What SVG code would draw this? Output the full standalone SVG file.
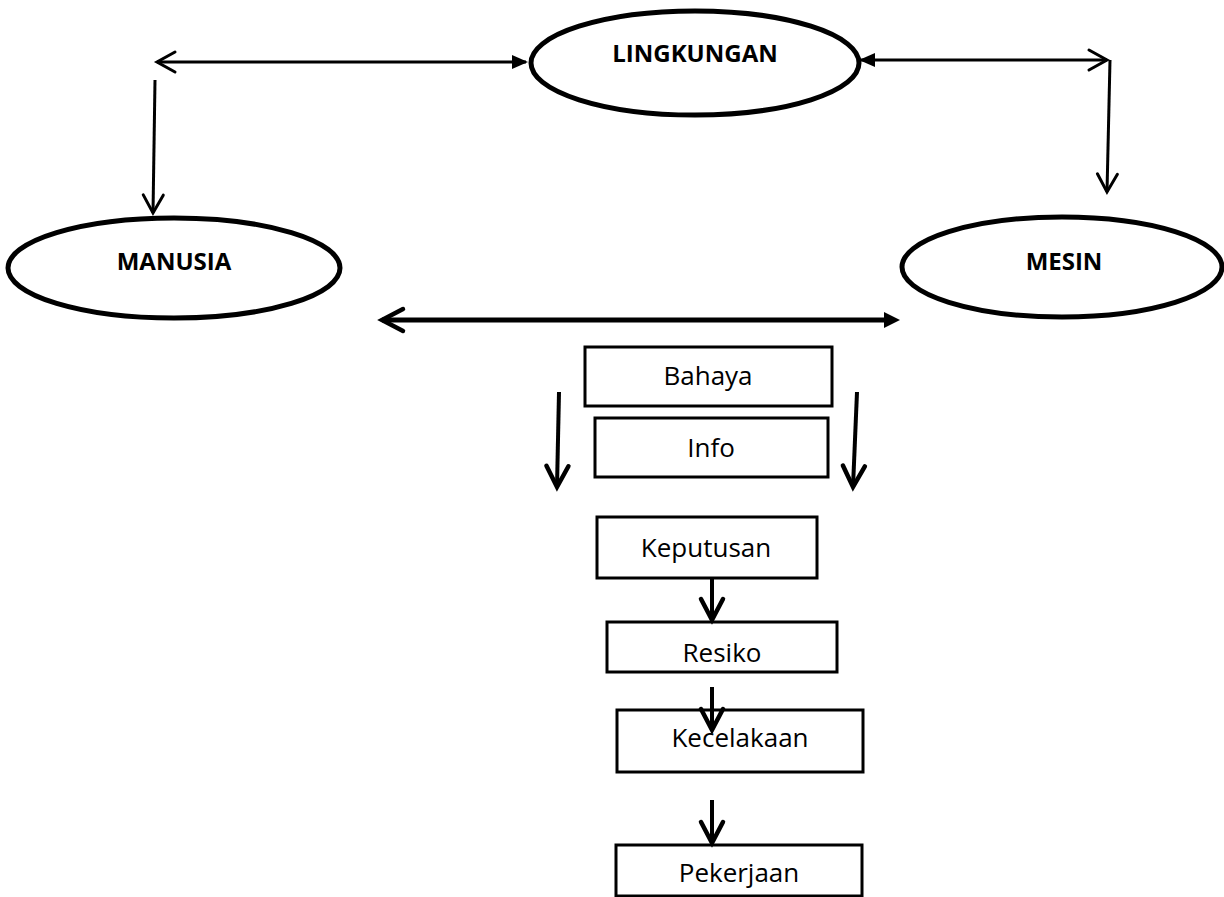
<svg xmlns="http://www.w3.org/2000/svg" width="1224" height="897" viewBox="0 0 1224 897">
<style>
.ell{fill:#fff;stroke:#000;stroke-width:5}
.box{fill:#fff;stroke:#000;stroke-width:3}
.bold{font-family:"Open Sans","Liberation Sans",sans-serif;font-weight:bold;font-size:24px;fill:#000;text-anchor:middle}
.lbl{font-family:"Open Sans","Liberation Sans",sans-serif;font-size:26px;fill:#000;text-anchor:middle}
.c3{fill:none;stroke:#000;stroke-width:3}
.c5{fill:none;stroke:#000;stroke-width:5}
.c4{fill:none;stroke:#000;stroke-width:4}
</style>
<defs>
<marker id="oa" markerUnits="userSpaceOnUse" orient="auto-start-reverse" overflow="visible" markerWidth="1" markerHeight="1" refX="0" refY="0"><path d="M-18,-10 L0,0 L-18,10" fill="none" stroke="#000" stroke-width="3" stroke-linecap="round" stroke-linejoin="miter"/></marker>
<marker id="fa" markerUnits="userSpaceOnUse" orient="auto-start-reverse" overflow="visible" markerWidth="1" markerHeight="1" refX="0" refY="0"><path d="M-14,-7 L2,0 L-14,7 Z" fill="#000"/></marker>
<marker id="ob" markerUnits="userSpaceOnUse" orient="auto-start-reverse" overflow="visible" markerWidth="1" markerHeight="1" refX="0" refY="0"><path d="M-21,-11 L0,0 L-21,11" fill="none" stroke="#000" stroke-width="4.5" stroke-linecap="round"/></marker>
<marker id="fb" markerUnits="userSpaceOnUse" orient="auto-start-reverse" overflow="visible" markerWidth="1" markerHeight="1" refX="0" refY="0"><path d="M-10,-8 L6,0 L-10,8 Z" fill="#000"/></marker>
</defs>
<rect width="1224" height="897" fill="#fff"/>
<g id="n-lingkungan"><ellipse class="ell" cx="695" cy="63" rx="164" ry="52"/><text class="bold" x="695" y="62">LINGKUNGAN</text></g>
<g id="n-manusia"><ellipse class="ell" cx="174" cy="268" rx="166" ry="50"/><text class="bold" x="174" y="270">MANUSIA</text></g>
<g id="n-mesin"><ellipse class="ell" cx="1062" cy="267" rx="160" ry="50"/><text class="bold" x="1064" y="270">MESIN</text></g>
<g id="n-bahaya"><rect class="box" x="585" y="347" width="247" height="59"/><text class="lbl" x="708" y="385">Bahaya</text></g>
<g id="n-info"><rect class="box" x="595" y="418" width="233" height="59"/><text class="lbl" x="711" y="457">Info</text></g>
<g id="n-keputusan"><rect class="box" x="597" y="517" width="220" height="61"/><text class="lbl" x="706" y="557">Keputusan</text></g>
<g id="n-resiko"><rect class="box" x="607" y="622" width="230" height="50"/><text class="lbl" x="722" y="662">Resiko</text></g>
<g id="n-kecelakaan"><rect class="box" x="617" y="710" width="246" height="62"/><text class="lbl" x="740" y="747">Kecelakaan</text></g>
<g id="n-pekerjaan"><rect class="box" x="616" y="845" width="246" height="51"/><text class="lbl" x="739" y="882">Pekerjaan</text></g>
<g id="connectors">
<line class="c3" x1="157" y1="62" x2="526" y2="62" marker-start="url(#oa)" marker-end="url(#fa)"/>
<line class="c3" x1="155" y1="80" x2="153" y2="213" marker-end="url(#oa)"/>
<line class="c3" x1="861" y1="60" x2="1107" y2="60" marker-start="url(#fa)" marker-end="url(#oa)"/>
<line class="c3" x1="1110" y1="60" x2="1107" y2="192" marker-end="url(#oa)"/>
<line class="c5" x1="382" y1="320" x2="894" y2="320" marker-start="url(#ob)" marker-end="url(#fb)"/>
<line class="c4" x1="559" y1="392" x2="557" y2="487" marker-end="url(#ob)"/>
<line class="c4" x1="857" y1="392" x2="853" y2="487" marker-end="url(#ob)"/>
<line class="c4" x1="712" y1="578" x2="712" y2="620" marker-end="url(#ob)"/>
<line class="c4" x1="712" y1="687" x2="712" y2="730" marker-end="url(#ob)"/>
<line class="c4" x1="712" y1="800" x2="712" y2="843" marker-end="url(#ob)"/>
</g>
</svg>
